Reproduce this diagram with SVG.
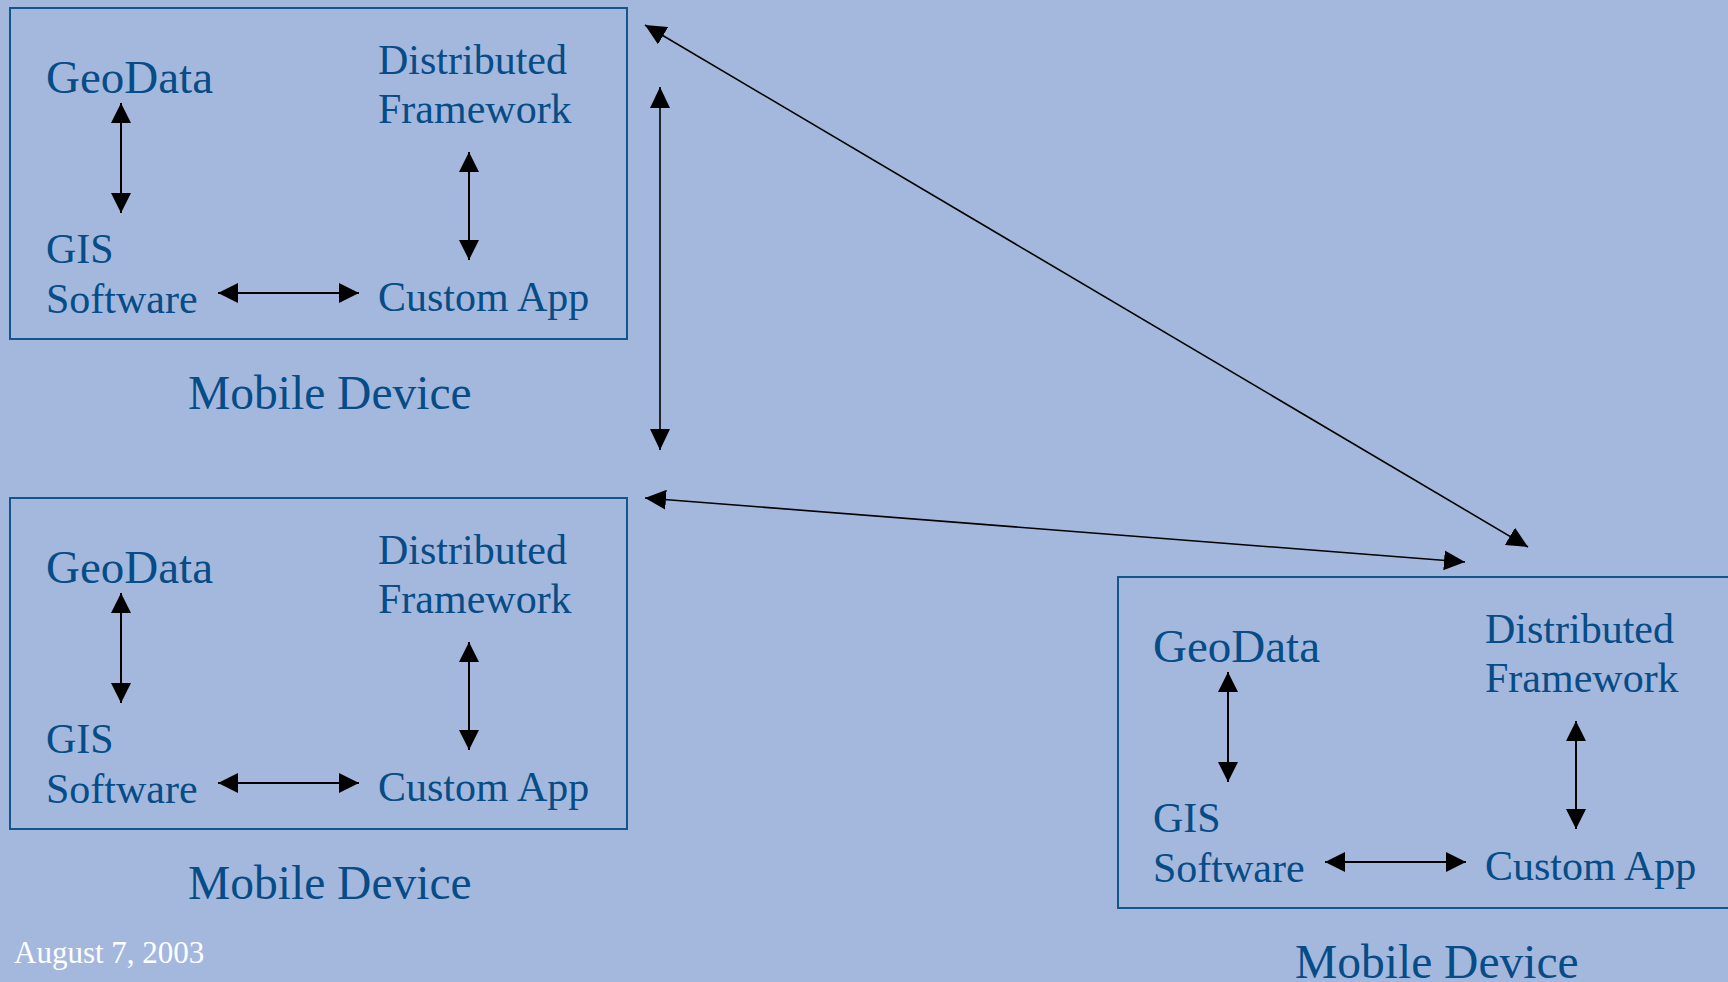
<svg xmlns="http://www.w3.org/2000/svg" width="1728" height="982" viewBox="0 0 1728 982">
<defs>
<style>
.bg{fill:#A4B8DE}
.box{fill:none;stroke:#13568E;stroke-width:2}
.t{font-family:"Liberation Serif","Times New Roman",serif;fill:#064C86;font-size:42px}
.big{font-size:47px}
.lbl{font-size:47.5px}
.date{font-family:"Liberation Serif","Times New Roman",serif;fill:#FFFFFF;font-size:31px}
.ia{stroke:#000;stroke-width:2;fill:none;marker-start:url(#ah);marker-end:url(#ah)}
.la{stroke:#000;stroke-width:1.6;fill:none;marker-start:url(#ah2);marker-end:url(#ah2)}
</style>
<marker id="ah" markerUnits="userSpaceOnUse" markerWidth="20" markerHeight="20" refX="20" refY="10" orient="auto-start-reverse" viewBox="0 0 20 20">
<path d="M0,0 L20,10 L0,20 Z" fill="#000"/>
</marker>
<marker id="ah2" markerUnits="userSpaceOnUse" markerWidth="21" markerHeight="20" refX="21" refY="10" orient="auto-start-reverse" viewBox="0 0 21 20">
<path d="M0,0 L21,10 L0,20 Z" fill="#000"/>
</marker>
</defs>
<rect class="bg" x="0" y="0" width="1728" height="982"/>

<g id="device1">
<rect class="box" x="10" y="8" width="617" height="331"/>
<g id="d1-geodata"><text class="t big" x="46" y="93">GeoData</text></g>
<g id="d1-framework"><text class="t" x="378" y="74">Distributed</text><text class="t" x="378" y="123">Framework</text></g>
<g id="d1-gis"><text class="t" x="46" y="263">GIS</text><text class="t" x="46" y="313">Software</text></g>
<g id="d1-app"><text class="t" x="378" y="311">Custom App</text></g>
<g id="d1-label"><text class="t lbl" x="188" y="409">Mobile Device</text></g>
</g>

<g id="device2" transform="translate(0,490)">
<rect class="box" x="10" y="8" width="617" height="331"/>
<g id="d2-geodata"><text class="t big" x="46" y="93">GeoData</text></g>
<g id="d2-framework"><text class="t" x="378" y="74">Distributed</text><text class="t" x="378" y="123">Framework</text></g>
<g id="d2-gis"><text class="t" x="46" y="263">GIS</text><text class="t" x="46" y="313">Software</text></g>
<g id="d2-app"><text class="t" x="378" y="311">Custom App</text></g>
<g id="d2-label"><text class="t lbl" x="188" y="409">Mobile Device</text></g>
</g>

<g id="device3" transform="translate(1107,569)">
<rect class="box" x="11" y="8" width="617" height="331"/>
<g id="d3-geodata"><text class="t big" x="46" y="93">GeoData</text></g>
<g id="d3-framework"><text class="t" x="378" y="74">Distributed</text><text class="t" x="378" y="123">Framework</text></g>
<g id="d3-gis"><text class="t" x="46" y="263">GIS</text><text class="t" x="46" y="313">Software</text></g>
<g id="d3-app"><text class="t" x="378" y="311">Custom App</text></g>
<g id="d3-label"><text class="t lbl" x="188" y="409">Mobile Device</text></g>
</g>

<g id="connectors">
<g>
<line class="ia" x1="121" y1="103" x2="121" y2="213"/>
<line class="ia" x1="469" y1="152" x2="469" y2="260"/>
<line class="ia" x1="218" y1="293" x2="359" y2="293"/>
</g>
<g transform="translate(0,490)">
<line class="ia" x1="121" y1="103" x2="121" y2="213"/>
<line class="ia" x1="469" y1="152" x2="469" y2="260"/>
<line class="ia" x1="218" y1="293" x2="359" y2="293"/>
</g>
<g transform="translate(1107,569)">
<line class="ia" x1="121" y1="103" x2="121" y2="213"/>
<line class="ia" x1="469" y1="152" x2="469" y2="260"/>
<line class="ia" x1="218" y1="293" x2="359" y2="293"/>
</g>
<line class="la" x1="645" y1="25" x2="1528" y2="547"/>
<line class="la" x1="660" y1="87" x2="660" y2="450"/>
<line class="la" x1="645" y1="498" x2="1465" y2="562"/>
</g>

<text class="date" x="14" y="963">August 7, 2003</text>
</svg>
